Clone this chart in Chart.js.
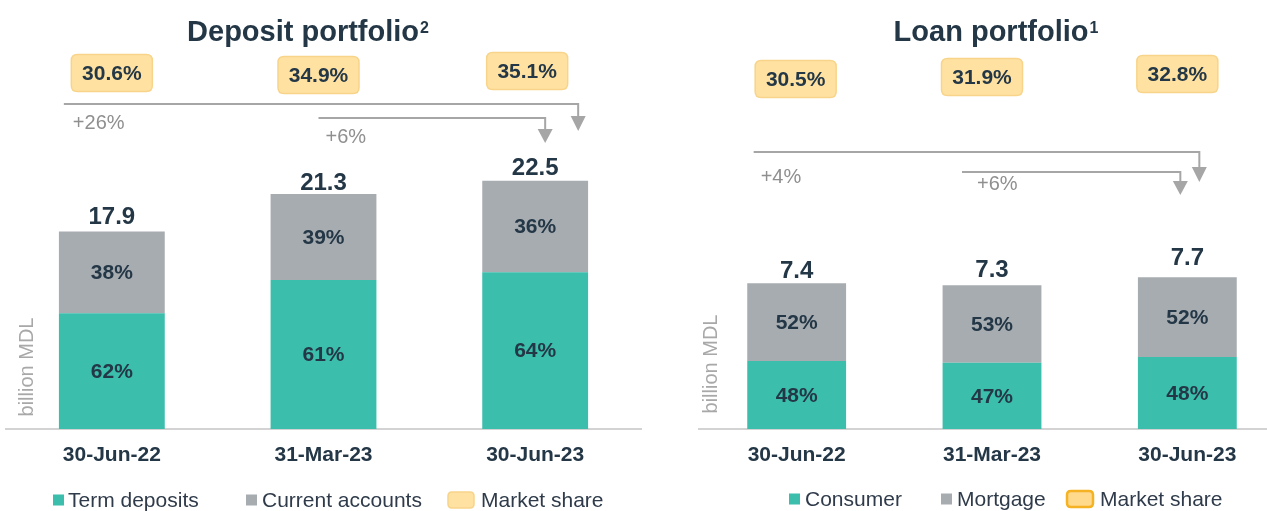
<!DOCTYPE html>
<html>
<head>
<meta charset="utf-8">
<script src="https://cdn.jsdelivr.net/npm/chart.js@4/dist/chart.umd.min.js"></script>
<style>
  html, body { margin:0; padding:0; background:#fff; overflow:hidden; width:1267px; height:511px; }
  canvas { position:absolute; top:0; }
  #dep { left:0; }
  #loan { left:640px; }
</style>
</head>
<body>
<canvas id="dep" width="648" height="511"></canvas>
<canvas id="loan" width="660" height="511"></canvas>
<script>
// ---------- DATA ----------
const categories = ['30-Jun-22', '31-Mar-23', '30-Jun-23'];

// Deposit portfolio (billion MDL)
const termDeposits = [10.5, 13.5, 14.2];
const currentAccounts = [7.4, 7.8, 8.3];
const depositTotals = ['17.9', '21.3', '22.5'];
const termDepositShares = ['62%', '61%', '64%'];
const currentAccountShares = ['38%', '39%', '36%'];
const depositMarketShare = ['30.6%', '34.9%', '35.1%'];
const depositGrowth = ['+26%', '+6%'];

// Loan portfolio (billion MDL)
const consumerLoans = [3.45, 3.36, 3.65];
const mortgageLoans = [3.95, 3.94, 4.05];
const loanTotals = ['7.4', '7.3', '7.7'];
const consumerShares = ['48%', '47%', '48%'];
const mortgageShares = ['52%', '53%', '52%'];
const loanMarketShare = ['30.5%', '31.9%', '32.8%'];
const loanGrowth = ['+4%', '+6%'];

// ---------- STYLE ----------
const FONT = '"Liberation Sans", Arial, sans-serif';
const NAVY = '#243746';
const TEAL = '#3BBEAC';
const GREY = '#A7ACB1';
const ARROW = '#A6A6A6';

function roundRect(ctx, x, y, w, h, r) {
  ctx.beginPath();
  ctx.moveTo(x + r, y);
  ctx.lineTo(x + w - r, y);
  ctx.quadraticCurveTo(x + w, y, x + w, y + r);
  ctx.lineTo(x + w, y + h - r);
  ctx.quadraticCurveTo(x + w, y + h, x + w - r, y + h);
  ctx.lineTo(x + r, y + h);
  ctx.quadraticCurveTo(x, y + h, x, y + h - r);
  ctx.lineTo(x, y + r);
  ctx.quadraticCurveTo(x, y, x + r, y);
  ctx.closePath();
}

function arrow(ctx, x1, x2, y, tipY, headH, headW) {
  ctx.save();
  ctx.strokeStyle = ARROW;
  ctx.fillStyle = ARROW;
  ctx.lineWidth = 2;
  ctx.beginPath();
  ctx.moveTo(x1, y);
  ctx.lineTo(x2, y);
  ctx.lineTo(x2, tipY - headH + 1);
  ctx.stroke();
  ctx.beginPath();
  ctx.moveTo(x2 - headW / 2, tipY - headH);
  ctx.lineTo(x2 + headW / 2, tipY - headH);
  ctx.lineTo(x2, tipY);
  ctx.closePath();
  ctx.fill();
  ctx.restore();
}

function panelPlugin(L) {
  return {
    id: 'panel_' + L.id,
    afterDraw(chart) {
      const ctx = chart.ctx;
      const ox = L.offsetX;
      const m0 = chart.getDatasetMeta(0).data;
      const m1 = chart.getDatasetMeta(1).data;
      ctx.save();

      // Title with superscript
      ctx.fillStyle = NAVY;
      ctx.font = 'bold 29px ' + FONT;
      ctx.textBaseline = 'alphabetic';
      const tw = ctx.measureText(L.title).width;
      ctx.font = 'bold 16px ' + FONT;
      const sw = ctx.measureText(L.sup).width;
      const tx = L.titleX - ox - (tw + sw + 1) / 2;
      ctx.font = 'bold 29px ' + FONT;
      ctx.textAlign = 'left';
      ctx.fillText(L.title, tx, 41);
      ctx.font = 'bold 16px ' + FONT;
      ctx.fillText(L.sup, tx + tw + 1, 33);

      // Bar labels
      ctx.textAlign = 'center';
      ctx.textBaseline = 'middle';
      for (let i = 0; i < m0.length; i++) {
        const b0 = m0[i], b1 = m1[i];
        ctx.fillStyle = NAVY;
        ctx.font = 'bold 21px ' + FONT;
        ctx.fillText(L.lowShares[i], b0.x, (b0.y + b0.base) / 2 + 1);
        ctx.fillText(L.highShares[i], b1.x, (b1.y + b1.base) / 2 + 1);
        ctx.font = 'bold 24px ' + FONT;
        ctx.fillText(L.totals[i], b1.x, b1.y - L.totalGap[i]);
      }

      // Market share boxes
      for (let i = 0; i < m0.length; i++) {
        const cx = m0[i].x + L.boxDx[i];
        const cy = L.boxY[i];
        roundRect(ctx, cx - 40.5, cy - 18.5, 81, 37, 6);
        ctx.fillStyle = '#FFE2A2';
        ctx.fill();
        ctx.strokeStyle = '#F8D48A';
        ctx.lineWidth = 1.5;
        ctx.stroke();
        ctx.fillStyle = NAVY;
        ctx.font = 'bold 21px ' + FONT;
        ctx.fillText(L.share[i], cx, cy + 1);
      }

      // Growth arrows
      const A = L.arrows;
      arrow(ctx, m0[0].x + A.longStart, m0[2].x + A.longEnd, A.longY, A.longTip, 15, 15);
      arrow(ctx, m0[1].x + A.shortStart, m0[2].x + A.shortEnd, A.shortY, A.shortTip, 14, 15);
      ctx.fillStyle = '#8F8F8F';
      ctx.font = '20px ' + FONT;
      ctx.textAlign = 'left';
      ctx.fillText(L.growth[0], m0[0].x + A.longTextDx, A.longTextY);
      ctx.fillText(L.growth[1], m0[1].x + A.shortTextDx, A.shortTextY);

      // Y-axis title
      ctx.save();
      ctx.translate(L.yTitleX - ox, L.yTitleY);
      ctx.rotate(-Math.PI / 2);
      ctx.textAlign = 'center';
      ctx.fillStyle = '#A8A8A8';
      ctx.font = '20px ' + FONT;
      ctx.fillText('billion MDL', 0, 0);
      ctx.restore();

      // Legend
      ctx.textAlign = 'left';
      ctx.textBaseline = 'middle';
      ctx.font = '21px ' + FONT;
      L.legend.forEach(it => {
        const x = it.x - ox;
        const y = L.legendY;
        if (it.kind === 'square') {
          ctx.fillStyle = it.color;
          ctx.fillRect(x, y - 5.5, 11, 11);
        } else {
          roundRect(ctx, x, y - 8, 26, 16, 4);
          ctx.fillStyle = it.fill;
          ctx.fill();
          ctx.strokeStyle = it.stroke;
          ctx.lineWidth = it.lw;
          ctx.stroke();
        }
        ctx.fillStyle = '#2F3B4A';
        ctx.fillText(it.text, it.tx - ox, y + 1);
      });
      ctx.restore();
    }
  };
}

function makeChart(canvasId, L, lowData, highData, lowName, highName, yMax, pad, barPct) {
  return new Chart(document.getElementById(canvasId), {
    type: 'bar',
    data: {
      labels: categories,
      datasets: [
        { label: lowName, data: lowData, backgroundColor: TEAL, borderWidth: 0 },
        { label: highName, data: highData, backgroundColor: GREY, borderWidth: 0 }
      ]
    },
    options: {
      responsive: false,
      animation: false,
      devicePixelRatio: 1,
      layout: { padding: pad },
      datasets: { bar: { barPercentage: barPct, categoryPercentage: 1.0 } },
      plugins: { legend: { display: false }, title: { display: false }, tooltip: { enabled: false } },
      scales: {
        x: {
          stacked: true,
          grid: { display: false, drawTicks: false },
          border: { display: true, color: '#D3D3D3', width: 2 },
          ticks: { color: NAVY, font: { family: FONT, size: 21, weight: 'bold' }, padding: 14 }
        },
        y: { stacked: true, display: false, min: 0, max: yMax }
      }
    },
    plugins: [panelPlugin(L)]
  });
}

const depLayout = {
  id: 'dep', offsetX: 0,
  title: 'Deposit portfolio', sup: '2', titleX: 308,
  lowShares: termDepositShares, highShares: currentAccountShares,
  totals: depositTotals, totalGap: [14, 11, 12],
  share: depositMarketShare, boxDx: [0, -5, -8], boxY: [73, 75, 71],
  growth: depositGrowth,
  arrows: { longStart: -48, longEnd: 43, longY: 104, longTip: 131,
            shortStart: -5, shortEnd: 10, shortY: 118, shortTip: 143,
            longTextDx: -39, longTextY: 123, shortTextDx: 2, shortTextY: 137 },
  yTitleX: 27, yTitleY: 367,
  legendY: 500,
  legend: [
    { kind: 'square', color: TEAL, x: 53, tx: 68, text: 'Term deposits' },
    { kind: 'square', color: GREY, x: 246, tx: 262, text: 'Current accounts' },
    { kind: 'box', fill: '#FFE2A2', stroke: '#F8D48A', lw: 1.5, x: 448, tx: 481, text: 'Market share' }
  ]
};

const loanLayout = {
  id: 'loan', offsetX: 640,
  title: 'Loan portfolio', sup: '1', titleX: 996,
  lowShares: consumerShares, highShares: mortgageShares,
  totals: loanTotals, totalGap: [12, 15, 19],
  share: loanMarketShare, boxDx: [-1, -10, -10], boxY: [79, 77, 74],
  growth: loanGrowth,
  arrows: { longStart: -43, longEnd: 12, longY: 152, longTip: 182,
            shortStart: -30, shortEnd: -7, shortY: 172, shortTip: 195,
            longTextDx: -36, longTextY: 177, shortTextDx: -15, shortTextY: 184 },
  yTitleX: 711, yTitleY: 364,
  legendY: 499,
  legend: [
    { kind: 'square', color: TEAL, x: 789, tx: 805, text: 'Consumer' },
    { kind: 'square', color: GREY, x: 941, tx: 957, text: 'Mortgage' },
    { kind: 'box', fill: '#FFD98C', stroke: '#F5B324', lw: 2.5, x: 1067, tx: 1100, text: 'Market share' }
  ]
};

makeChart('dep', depLayout, termDeposits, currentAccounts, 'Term deposits', 'Current accounts',
  30, { top: 98, bottom: 28.8, left: 6, right: 7 }, 0.5);
makeChart('loan', loanLayout, consumerLoans, mortgageLoans, 'Consumer', 'Mortgage',
  15, { top: 133.5, bottom: 28.8, left: 59, right: 15 }, 0.506);
</script>
</body>
</html>
